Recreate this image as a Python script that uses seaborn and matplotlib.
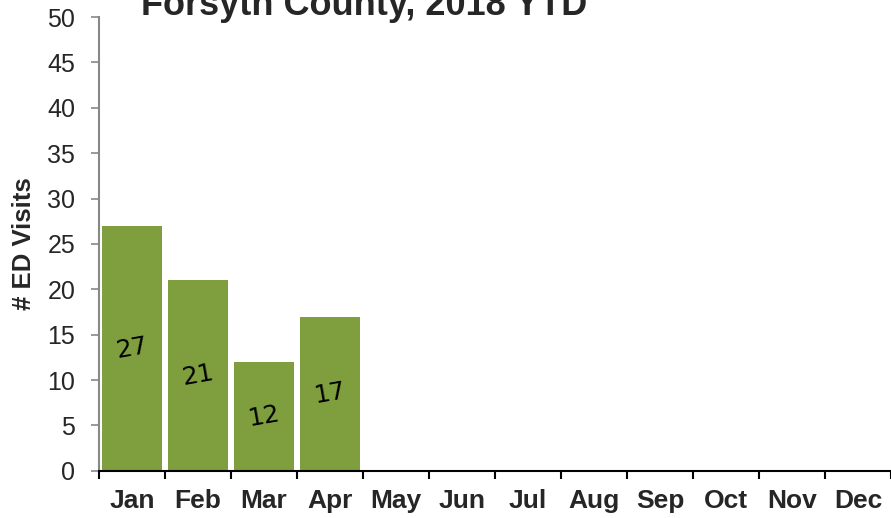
import matplotlib
matplotlib.use("Agg")
import matplotlib.pyplot as plt
import seaborn as sns
import pandas as pd
import numpy as np

# data
months = ["Jan", "Feb", "Mar", "Apr", "May", "Jun", "Jul", "Aug", "Sep", "Oct", "Nov", "Dec"]
visits = [27, 21, 12, 17, np.nan, np.nan, np.nan, np.nan, np.nan, np.nan, np.nan, np.nan]
title = "Forsyth County, 2018 YTD"
ylabel = "# ED Visits"

df = pd.DataFrame({"Month": months, "Visits": visits})

sns.set_theme(style="white")
plt.rcParams["font.family"] = ["Liberation Sans", "DejaVu Sans"]

fig = plt.figure(figsize=(8.91, 5.18), dpi=100)
ax = fig.add_axes([0.111, 0.091, 0.889, 0.876])

sns.barplot(data=df, x="Month", y="Visits", order=months, color="#7f9f3f",
            saturation=1, width=0.92, ax=ax, edgecolor="none")

# value labels, slightly tilted
for i, v in enumerate(visits):
    if not np.isnan(v):
        ax.text(i, v / 2, f"{int(v)}", ha="center", va="center", rotation=10,
                fontsize=18, color="black", family=["DejaVu Sans"])

ax.set_ylim(0, 50)
ax.set_yticks(np.arange(0, 51, 5))
ax.set_xlim(-0.5, 11.5)
ax.set_xticks(np.arange(-0.5, 12, 1))
ax.set_xticklabels([])
ax.set_xticks(np.arange(12), minor=True)
ax.set_xticklabels(months, minor=True, fontweight="bold", fontsize=19)
ax.tick_params(axis="x", which="minor", length=0, pad=13)
ax.tick_params(axis="x", which="major", length=6, width=1.5, color="black", direction="out", bottom=True)
ax.tick_params(axis="y", length=6, width=1.2, color="#888888", direction="out", left=True, labelsize=18, pad=11)

ax.set_xlabel("")
ax.set_ylabel(ylabel, fontweight="bold", fontsize=18.5, va="center")
ax.yaxis.set_label_coords(-0.095, 0.5)

for s in ["top", "right"]:
    ax.spines[s].set_visible(False)
ax.spines["left"].set_color("#888888")
ax.spines["left"].set_linewidth(1.5)
ax.spines["bottom"].set_color("black")
ax.spines["bottom"].set_linewidth(1.5)

fig.text(0.409, 1 - 15 / 518, title, ha="center", va="baseline", fontsize=26, fontweight="bold")

fig.savefig("out.png", dpi=100)
